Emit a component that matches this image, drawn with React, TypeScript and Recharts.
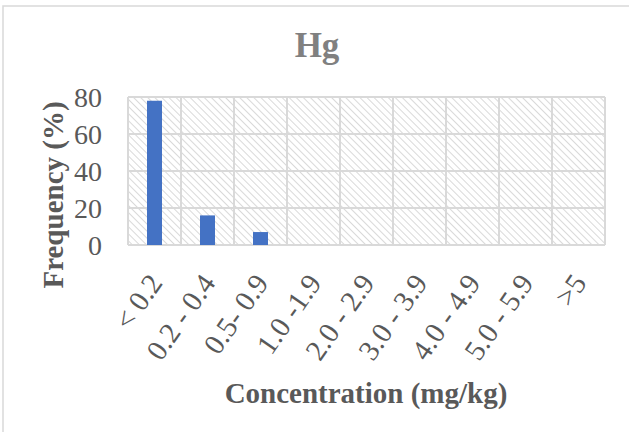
import { BarChart, Bar, XAxis, YAxis, CartesianGrid } from 'recharts'

const categories = ['< 0.2', '0.2 - 0.4', '0.5- 0.9', '1.0 -1.9', '2.0 - 2.9', '3.0 - 3.9', '4.0 - 4.9', '5.0 - 5.9', '>5']
const frequency = [78, 16, 7, 0, 0, 0, 0, 0, 0]
const yTicks = [0, 20, 40, 60, 80]

const data = categories.map((name, i) => ({ name, value: frequency[i] }))

const FONT = '"Liberation Serif", "Times New Roman", serif'
const TEXT = '#595959'
const GRID = '#d9d9d9'

const XTick = ({ x, y, payload }: any) => {
  const tx = x + 9
  const ty = y + 38
  return (
    <text
      x={tx}
      y={ty}
      transform={`rotate(-55, ${tx}, ${ty})`}
      textAnchor="end"
      fontSize={29}
      fontFamily={FONT}
      fill={TEXT}
    >
      {payload.value}
    </text>
  )
}

export default function App() {
  return (
    <div style={{ position: 'absolute', left: 0, top: 0, background: '#fff' }}>
      <svg width={0} height={0} style={{ position: 'absolute' }}>
        <defs>
          <pattern id="hatch" patternUnits="userSpaceOnUse" width={5} height={5} patternTransform="rotate(-45)">
            <line x1={0} y1={0} x2={0} y2={5} stroke="#cccccc" strokeWidth={1.5} />
          </pattern>
        </defs>
      </svg>
      <BarChart
        width={629}
        height={432}
        data={data}
        margin={{ top: 97, right: 24, left: 0, bottom: 0 }}
        barSize={15}
      >
        <rect x={3} y={6} width={700} height={500} fill="none" stroke={GRID} strokeWidth={1.5} />
        <CartesianGrid
          fill="url(#hatch)"
          stroke={GRID}
          strokeWidth={2}
          verticalCoordinatesGenerator={({ offset }: any) =>
            categories.concat(['']).map((_, i) => offset.left + (offset.width * i) / categories.length)
          }
        />
        <XAxis
          dataKey="name"
          height={187}
          axisLine={false}
          tickLine={false}
          tickSize={0}
          tickMargin={0}
          interval={0}
          tick={<XTick />}
        />
        <YAxis
          width={128}
          domain={[0, 80]}
          ticks={yTicks}
          axisLine={false}
          tickLine={false}
          tickSize={0}
          tickMargin={26}
          tick={{ fontSize: 28, fontFamily: FONT, fill: TEXT }}
        />
        <Bar dataKey="value" fill="#4472C4" isAnimationActive={false} />
        <text x={317} y={57} textAnchor="middle" fontSize={35} fontWeight="bold" fontFamily={FONT} fill="#808080">
          Hg
        </text>
        <text
          x={63}
          y={195}
          transform="rotate(-90, 63, 195)"
          textAnchor="middle"
          fontSize={29}
          fontWeight="bold"
          fontFamily={FONT}
          fill={TEXT}
        >
          Frequency (%)
        </text>
        <text x={366} y={403} textAnchor="middle" fontSize={29} fontWeight="bold" fontFamily={FONT} fill={TEXT}>
          Concentration (mg/kg)
        </text>
      </BarChart>
    </div>
  )
}
